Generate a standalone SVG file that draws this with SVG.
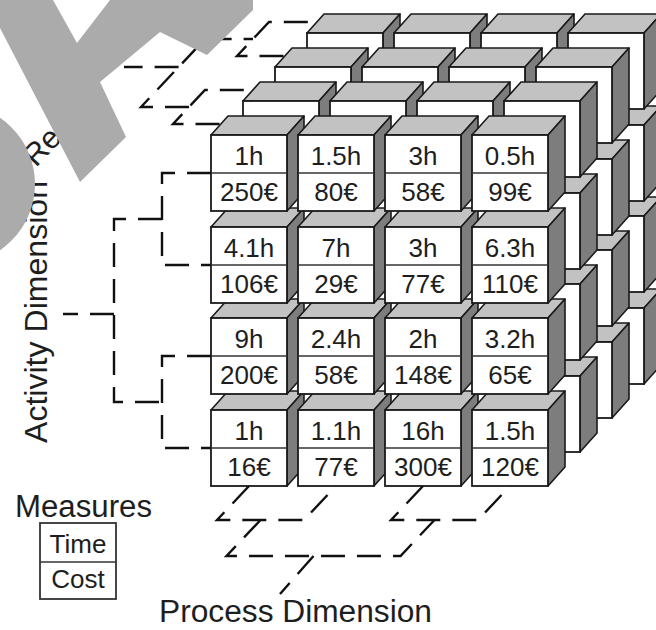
<svg xmlns="http://www.w3.org/2000/svg" xmlns:xlink="http://www.w3.org/1999/xlink" width="656" height="630" viewBox="0 0 656 630">
<style>
.front{fill:#ffffff;stroke:#1a1a1a;stroke-width:1.8}
.top{fill:#c2c2c2;stroke:#1a1a1a;stroke-width:1.6;stroke-linejoin:round}
.side{fill:#7d7d7d;stroke:#1a1a1a;stroke-width:1.6;stroke-linejoin:round}
.mid{stroke:#333;stroke-width:1.5}
.val{font-family:"Liberation Sans",Arial,sans-serif;font-size:26px;fill:#1e1e1e;text-anchor:middle}
.lbl{font-family:"Liberation Sans",Arial,sans-serif;font-size:31px;fill:#1e1e1e}
.dash{fill:none;stroke:#111;stroke-width:2.4;stroke-dasharray:24 12;stroke-linejoin:miter}
.wm{fill:#ababab}
</style>
<defs>
<g id="cube">
<polygon class="top" points="0,0 17,-19 93,-19 76,0"/>
<polygon class="side" points="76,0 93,-19 93,57 76,76"/>
<rect class="front" x="0" y="0" width="76" height="76"/>
</g>
</defs>
<rect width="656" height="630" fill="#ffffff"/>

<g id="layer3">
<use href="#cube" x="307" y="308"/><use href="#cube" x="394" y="308"/><use href="#cube" x="481" y="308"/><use href="#cube" x="568" y="308"/>
<use href="#cube" x="307" y="216"/><use href="#cube" x="394" y="216"/><use href="#cube" x="481" y="216"/><use href="#cube" x="568" y="216"/>
<use href="#cube" x="307" y="125"/><use href="#cube" x="394" y="125"/><use href="#cube" x="481" y="125"/><use href="#cube" x="568" y="125"/>
<use href="#cube" x="307" y="33"/><use href="#cube" x="394" y="33"/><use href="#cube" x="481" y="33"/><use href="#cube" x="568" y="33"/>
</g>
<g id="layer2">
<use href="#cube" x="275" y="342"/><use href="#cube" x="362" y="342"/><use href="#cube" x="449" y="342"/><use href="#cube" x="536" y="342"/>
<use href="#cube" x="275" y="250"/><use href="#cube" x="362" y="250"/><use href="#cube" x="449" y="250"/><use href="#cube" x="536" y="250"/>
<use href="#cube" x="275" y="159"/><use href="#cube" x="362" y="159"/><use href="#cube" x="449" y="159"/><use href="#cube" x="536" y="159"/>
<use href="#cube" x="275" y="67"/><use href="#cube" x="362" y="67"/><use href="#cube" x="449" y="67"/><use href="#cube" x="536" y="67"/>
</g>
<g id="layer1">
<use href="#cube" x="243" y="376"/><use href="#cube" x="330" y="376"/><use href="#cube" x="417" y="376"/><use href="#cube" x="504" y="376"/>
<use href="#cube" x="243" y="284"/><use href="#cube" x="330" y="284"/><use href="#cube" x="417" y="284"/><use href="#cube" x="504" y="284"/>
<use href="#cube" x="243" y="193"/><use href="#cube" x="330" y="193"/><use href="#cube" x="417" y="193"/><use href="#cube" x="504" y="193"/>
<use href="#cube" x="243" y="101"/><use href="#cube" x="330" y="101"/><use href="#cube" x="417" y="101"/><use href="#cube" x="504" y="101"/>
</g>

<g id="front-layer">
<g id="c41" transform="translate(211,410)"><use href="#cube"/><line class="mid" x1="0" y1="38" x2="76" y2="38"/><text class="val" x="38" y="29.5">1h</text><text class="val" x="38" y="66">16€</text></g>
<g id="c42" transform="translate(298,410)"><use href="#cube"/><line class="mid" x1="0" y1="38" x2="76" y2="38"/><text class="val" x="38" y="29.5">1.1h</text><text class="val" x="38" y="66">77€</text></g>
<g id="c43" transform="translate(385,410)"><use href="#cube"/><line class="mid" x1="0" y1="38" x2="76" y2="38"/><text class="val" x="38" y="29.5">16h</text><text class="val" x="38" y="66">300€</text></g>
<g id="c44" transform="translate(472,410)"><use href="#cube"/><line class="mid" x1="0" y1="38" x2="76" y2="38"/><text class="val" x="38" y="29.5">1.5h</text><text class="val" x="38" y="66">120€</text></g>

<g id="c31" transform="translate(211,318)"><use href="#cube"/><line class="mid" x1="0" y1="38" x2="76" y2="38"/><text class="val" x="38" y="29.5">9h</text><text class="val" x="38" y="66">200€</text></g>
<g id="c32" transform="translate(298,318)"><use href="#cube"/><line class="mid" x1="0" y1="38" x2="76" y2="38"/><text class="val" x="38" y="29.5">2.4h</text><text class="val" x="38" y="66">58€</text></g>
<g id="c33" transform="translate(385,318)"><use href="#cube"/><line class="mid" x1="0" y1="38" x2="76" y2="38"/><text class="val" x="38" y="29.5">2h</text><text class="val" x="38" y="66">148€</text></g>
<g id="c34" transform="translate(472,318)"><use href="#cube"/><line class="mid" x1="0" y1="38" x2="76" y2="38"/><text class="val" x="38" y="29.5">3.2h</text><text class="val" x="38" y="66">65€</text></g>

<g id="c21" transform="translate(211,227)"><use href="#cube"/><line class="mid" x1="0" y1="38" x2="76" y2="38"/><text class="val" x="38" y="29.5">4.1h</text><text class="val" x="38" y="66">106€</text></g>
<g id="c22" transform="translate(298,227)"><use href="#cube"/><line class="mid" x1="0" y1="38" x2="76" y2="38"/><text class="val" x="38" y="29.5">7h</text><text class="val" x="38" y="66">29€</text></g>
<g id="c23" transform="translate(385,227)"><use href="#cube"/><line class="mid" x1="0" y1="38" x2="76" y2="38"/><text class="val" x="38" y="29.5">3h</text><text class="val" x="38" y="66">77€</text></g>
<g id="c24" transform="translate(472,227)"><use href="#cube"/><line class="mid" x1="0" y1="38" x2="76" y2="38"/><text class="val" x="38" y="29.5">6.3h</text><text class="val" x="38" y="66">110€</text></g>

<g id="c11" transform="translate(211,135)"><use href="#cube"/><line class="mid" x1="0" y1="38" x2="76" y2="38"/><text class="val" x="38" y="29.5">1h</text><text class="val" x="38" y="66">250€</text></g>
<g id="c12" transform="translate(298,135)"><use href="#cube"/><line class="mid" x1="0" y1="38" x2="76" y2="38"/><text class="val" x="38" y="29.5">1.5h</text><text class="val" x="38" y="66">80€</text></g>
<g id="c13" transform="translate(385,135)"><use href="#cube"/><line class="mid" x1="0" y1="38" x2="76" y2="38"/><text class="val" x="38" y="29.5">3h</text><text class="val" x="38" y="66">58€</text></g>
<g id="c14" transform="translate(472,135)"><use href="#cube"/><line class="mid" x1="0" y1="38" x2="76" y2="38"/><text class="val" x="38" y="29.5">0.5h</text><text class="val" x="38" y="66">99€</text></g>
</g>

<g id="connectors">
<!-- Activity dimension -->
<path class="dash" d="M211,173 H162 V265 H211"/>
<path class="dash" d="M211,356 H162 V448 H211"/>
<path class="dash" d="M162,219 H114 V402 H162"/>
<path class="dash" d="M114,314 H63"/>
<!-- Resource dimension -->
<path class="dash" d="M219.5,124 H173 L205,90 H251.5"/>
<path class="dash" d="M283.5,56 H237 L269,22 H315.5"/>
<path class="dash" d="M189,107 H141 L205,39 H253"/>
<path class="dash" d="M178.6,67 H124"/>
<!-- Process dimension -->
<path class="dash" d="M249,486 L217,520 H304 L336,486"/>
<path class="dash" d="M423,486 L391,520 H478 L510,486"/>
<path class="dash" d="M260.5,520 L226.5,556 H400.5 L434.5,520"/>
<path class="dash" d="M313.5,556 L280,594"/>
</g>

<g id="labels">
<text id="activity-label" class="lbl" transform="translate(47,443) rotate(-90)" font-size="32" textLength="262" lengthAdjust="spacingAndGlyphs">Activity Dimension</text>
<text id="resource-label" class="lbl" transform="translate(36,168) rotate(-47)">Re</text>
<text id="process-label" class="lbl" x="159" y="622" textLength="273" lengthAdjust="spacingAndGlyphs">Process Dimension</text>
</g>

<g id="measures">
<text class="lbl" x="15" y="517" textLength="137" lengthAdjust="spacingAndGlyphs">Measures</text>
<rect x="40" y="523" width="76" height="76" fill="#fff" stroke="#333" stroke-width="1.8"/>
<line x1="40" y1="562" x2="116" y2="562" stroke="#333" stroke-width="1.5"/>
<text class="val" x="78" y="553" font-size="25">Time</text>
<text class="val" x="78" y="588" font-size="25">Cost</text>
</g>

<g id="watermark">
<polygon class="wm" points="0,0 53,0 77,43 110,0 253,0 253,10 207,55 160,32 100,82 126,137 80,182 0,28"/>
<circle class="wm" cx="-45" cy="184" r="80"/>
</g>
</svg>
